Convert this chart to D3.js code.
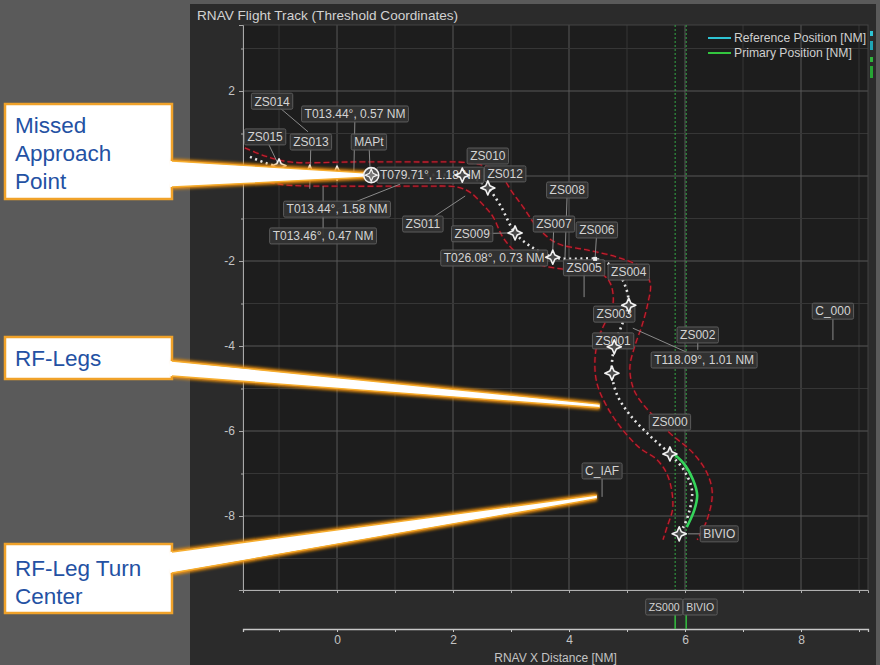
<!DOCTYPE html>
<html><head><meta charset="utf-8">
<script src="https://cdn.jsdelivr.net/npm/d3@7"></script>
<style>
body{margin:0;background:#5a5a5a;}
svg{display:block;font-family:"Liberation Sans",Arial,sans-serif;}
</style>
</head><body>
<svg id="chart" width="880" height="665"></svg>
<script>
// ---------------- DATA (NM, threshold coordinates) ----------------
const titleText = "RNAV Flight Track (Threshold Coordinates)";
const xAxisTitle = "RNAV X Distance [NM]";
const xTickValues = [-1,0,1,2,3,4,5,6,7,8,9];
const xTickLabels = [0,2,4,6,8];
const yTickValues = [-9,-8,-7,-6,-5,-4,-3,-2,-1,0,1,2,3];
const yTickLabels = [2,0,-2,-4,-6,-8];
const legendItems = ["Reference Position [NM]","Primary Position [NM]"];

const referenceTrack = [[-1.50,0.45],[-1.24,0.31],[-1.00,0.21],[-0.72,0.12],[-0.47,0.07],[0.00,0.05],[0.57,0.02],[1.43,0.02],[2.16,0.02],[2.38,-0.07],[2.60,-0.28],[2.81,-0.68],[3.07,-1.34],[3.33,-1.65],[3.72,-1.91],[4.10,-1.95],[4.45,-1.95],[4.74,-2.12],[4.95,-2.52],[5.03,-3.04],[4.91,-3.51],[4.78,-4.02],[4.74,-4.64],[4.83,-5.15],[5.05,-5.62],[5.40,-6.12],[5.74,-6.54],[5.98,-6.92],[6.12,-7.39],[6.07,-7.91],[5.97,-8.26],[5.90,-8.42]];
const primaryTrack = [[5.74,-6.47],[5.97,-6.75],[6.14,-7.15],[6.21,-7.51],[6.16,-7.86],[6.03,-8.26]];
const containmentOuter = [[-1.59,0.66],[-1.24,0.47],[-0.81,0.33],[0.22,0.33],[1.43,0.33],[2.29,0.31],[2.64,0.19],[2.86,-0.05],[3.02,-0.38],[3.21,-0.73],[3.45,-1.20],[3.79,-1.58],[4.31,-1.74],[4.83,-1.91],[5.22,-2.14],[5.40,-2.52],[5.36,-2.99],[5.26,-3.51],[5.14,-3.98],[5.05,-4.49],[5.10,-4.96],[5.22,-5.27],[5.52,-5.74],[5.74,-6.05],[6.14,-6.52],[6.38,-6.99],[6.47,-7.46],[6.38,-8.09],[6.21,-8.56]];
const containmentInner = [[-1.62,0.05],[-1.24,-0.12],[-0.90,-0.21],[0.22,-0.24],[1.43,-0.24],[2.07,-0.26],[2.29,-0.38],[2.52,-0.68],[2.69,-0.96],[2.86,-1.44],[3.10,-1.81],[3.50,-2.09],[4.02,-2.21],[4.53,-2.28],[4.71,-2.52],[4.76,-2.99],[4.66,-3.34],[4.53,-3.74],[4.45,-4.26],[4.48,-4.87],[4.66,-5.44],[4.93,-5.98],[5.22,-6.40],[5.52,-6.68],[5.71,-7.08],[5.79,-7.79],[5.69,-8.26],[5.62,-8.56]];

const waypoints = [
  {name:"ZS015",x:-1.00,y:0.24,kind:"star"},
  {name:"ZS013",x:-0.47,y:0.09,kind:"star"},
  {name:"ZS014",x:0.00,y:0.07,kind:"star"},
  {name:"ZS010",x:2.16,y:0.02,kind:"star"},
  {name:"ZS012",x:2.60,y:-0.28,kind:"star"},
  {name:"ZS009",x:3.07,y:-1.34,kind:"star"},
  {name:"ZS007",x:3.72,y:-1.91,kind:"star"},
  {name:"ZS006",x:4.45,y:-1.95,kind:"dot"},
  {name:"ZS004",x:5.03,y:-3.04,kind:"star"},
  {name:"ZS001",x:4.78,y:-4.02,kind:"star"},
  {name:"ZS003",x:4.74,y:-4.64,kind:"star"},
  {name:"ZS000",x:5.74,y:-6.54,kind:"star"},
  {name:"BIVIO",x:5.90,y:-8.42,kind:"star"}
];
const mapt = {name:"MAPt",x:0.59,y:0.02};

// label text, label centre (x,y) and leader anchor (ax,ay), all in NM
const labels = [
  {t:"ZS014",x:-1.12,y:1.76,ax:-0.50,ay:1.04},
  {t:"T013.44°, 0.57 NM",x:0.31,y:1.46,ax:0.29,ay:0.05},
  {t:"ZS015",x:-1.24,y:0.92,ax:-1.00,ay:0.24},
  {t:"ZS013",x:-0.45,y:0.80,ax:-0.47,ay:-0.30},
  {t:"MAPt",x:0.55,y:0.80,ax:0.57,ay:0.16},
  {t:"ZS010",x:2.60,y:0.47,ax:2.60,ay:0.47},
  {t:"T079.71°, 1.18 NM",x:1.61,y:0.02,ax:1.61,ay:0.02},
  {t:"ZS012",x:2.90,y:0.05,ax:2.90,ay:0.05},
  {t:"T013.44°, 1.58 NM",x:0.00,y:-0.78,ax:1.09,ay:-0.19},
  {t:"T013.46°, 0.47 NM",x:-0.24,y:-1.41,ax:-0.24,ay:-0.24},
  {t:"ZS011",x:1.48,y:-1.13,ax:2.21,ay:-0.47},
  {t:"ZS009",x:2.33,y:-1.36,ax:2.95,ay:-1.34},
  {t:"ZS008",x:3.97,y:-0.33,ax:3.93,ay:-1.93},
  {t:"ZS007",x:3.74,y:-1.13,ax:3.72,ay:-1.74},
  {t:"ZS006",x:4.48,y:-1.27,ax:4.45,ay:-1.93},
  {t:"T026.08°, 0.73 NM",x:2.71,y:-1.93,ax:2.71,ay:-1.93},
  {t:"ZS005",x:4.26,y:-2.16,ax:4.26,ay:-2.85},
  {t:"ZS004",x:5.03,y:-2.26,ax:5.03,ay:-2.26},
  {t:"ZS003",x:4.78,y:-3.25,ax:4.78,ay:-3.25},
  {t:"ZS001",x:4.76,y:-3.88,ax:4.76,ay:-3.88},
  {t:"ZS002",x:6.22,y:-3.74,ax:6.22,ay:-4.09},
  {t:"T118.09°, 1.01 NM",x:6.33,y:-4.33,ax:5.10,ay:-3.58},
  {t:"ZS000",x:5.74,y:-5.79,ax:5.74,ay:-5.79},
  {t:"C_IAF",x:4.57,y:-6.94,ax:4.57,ay:-7.55},
  {t:"BIVIO",x:6.59,y:-8.42,ax:6.05,ay:-8.42},
  {t:"C_000",x:8.55,y:-3.18,ax:8.55,ay:-3.86}
];
const xMarkers = [5.83, 6.02];
const xMarkerLabels = ["ZS000","BIVIO"];
const callouts = [
  {lines:["Missed","Approach","Point"], tx:0.60, ty:0.02},
  {lines:["RF-Legs"], tx:4.53, ty:-5.41},
  {lines:["RF-Leg Turn","Center"], tx:4.48, ty:-7.55}
];

// ---------------- LAYOUT ----------------
const svg = d3.select("#chart");
const P = {l:243, r:868, t:25, b:590};
const x = d3.scaleLinear().domain([-1.621, 9.155]).range([P.l, P.r]);
const y = d3.scaleLinear().domain([-9.741, 3.553]).range([P.b, P.t]);

const defs = svg.append("defs");
defs.append("clipPath").attr("id","plotclip").append("rect")
  .attr("x",P.l).attr("y",P.t).attr("width",P.r-P.l).attr("height",P.b-P.t);
const glow = defs.append("filter").attr("id","glow").attr("x","-20%").attr("y","-50%").attr("width","140%").attr("height","200%");
glow.append("feGaussianBlur").attr("stdDeviation",1.4);

// backgrounds
svg.append("rect").attr("width",880).attr("height",665).attr("fill","#5a5a5a");
svg.append("rect").attr("x",190).attr("y",4).attr("width",686).attr("height",661).attr("fill","#2b2b2b");
svg.append("rect").attr("x",P.l).attr("y",P.t).attr("width",P.r-P.l).attr("height",P.b-P.t).attr("fill","#1d1d1d");

svg.append("text").attr("x",197).attr("y",20).attr("fill","#d2d2d2").attr("font-size",13.6).text(titleText);

// gridlines
const grid = svg.append("g");
xTickValues.forEach(v=>{
  grid.append("line").attr("x1",x(v)).attr("x2",x(v)).attr("y1",P.t).attr("y2",P.b)
    .attr("stroke", v%2===0 ? "#585858" : "#363636").attr("stroke-width",1);
});
yTickValues.forEach(v=>{
  grid.append("line").attr("x1",P.l).attr("x2",P.r).attr("y1",y(v)).attr("y2",y(v))
    .attr("stroke", v%2===0 ? "#585858" : "#363636").attr("stroke-width",1);
});
svg.append("rect").attr("x",P.l).attr("y",P.t).attr("width",P.r-P.l).attr("height",P.b-P.t)
  .attr("fill","none").attr("stroke","#444");

const plot = svg.append("g").attr("clip-path","url(#plotclip)");

// green vertical markers
xMarkers.forEach(v=>{
  plot.append("line").attr("x1",x(v)).attr("x2",x(v)).attr("y1",P.t).attr("y2",P.b)
    .attr("stroke","#33a845").attr("stroke-width",1).attr("stroke-dasharray","2,2");
});

const line = d3.line().x(d=>x(d[0])).y(d=>y(d[1])).curve(d3.curveCatmullRom.alpha(0.5));

// containment
[containmentOuter, containmentInner].forEach(arr=>{
  plot.append("path").attr("d",line(arr)).attr("fill","none")
    .attr("stroke","#5a0d16").attr("stroke-width",3).attr("stroke-dasharray","6,3").attr("opacity",0.6);
  plot.append("path").attr("d",line(arr)).attr("fill","none")
    .attr("stroke","#c0202f").attr("stroke-width",1.3).attr("stroke-dasharray","6,3");
});

// reference track (dotted)
plot.append("path").attr("d",line(referenceTrack)).attr("fill","none")
  .attr("stroke","#e4e4e4").attr("stroke-width",2.6).attr("stroke-dasharray","2,3.6");
// primary track
plot.append("path").attr("d",line(primaryTrack)).attr("fill","none")
  .attr("stroke","#35d35a").attr("stroke-width",2.6);

// leader lines
const leaders = svg.append("g");
labels.forEach(d=>{
  if (d.ax!==d.x || d.ay!==d.y) {
    leaders.append("line").attr("x1",x(d.x)).attr("y1",y(d.y)).attr("x2",x(d.ax)).attr("y2",y(d.ay))
      .attr("stroke","#8a8a8a").attr("stroke-width",1);
  }
});

// label boxes
function drawLabel(g, cx, cy, text, fs) {
  fs = fs || 12;
  const grp = g.append("g");
  const r = grp.append("rect");
  const t = grp.append("text").attr("x",cx).attr("y",cy+fs*0.36).attr("text-anchor","middle")
    .attr("font-size",fs).attr("fill","#d4d4d4").text(text);
  const w = t.node().getComputedTextLength()+6;
  r.attr("x",cx-w/2).attr("y",cy-8).attr("width",w).attr("height",16).attr("rx",1.5)
    .attr("fill","#333").attr("fill-opacity",0.92).attr("stroke","#5c5c5c").attr("stroke-width",1);
}
const labG = svg.append("g");
labels.forEach(d=>drawLabel(labG, x(d.x), y(d.y), d.t));

// 4-point star symbol
const star4 = {draw(ctx,size){const r=Math.sqrt(size)/2; const i=r*0.3;
  ctx.moveTo(0,-r);ctx.lineTo(i,-i);ctx.lineTo(r,0);ctx.lineTo(i,i);ctx.lineTo(0,r);
  ctx.lineTo(-i,i);ctx.lineTo(-r,0);ctx.lineTo(-i,-i);ctx.closePath();}};
const starPath = d3.symbol().type(star4).size(200);
const wpG = svg.append("g");
waypoints.forEach(d=>{
  if (d.kind==="star") {
    wpG.append("path").attr("d",starPath()).attr("transform",`translate(${x(d.x)},${y(d.y)})`)
      .attr("fill","#4a4a4a").attr("stroke","#f2f2f2").attr("stroke-width",1.6).attr("stroke-linejoin","round");
  } else {
    wpG.append("rect").attr("x",x(d.x)-2).attr("y",y(d.y)-2).attr("width",4).attr("height",4).attr("fill","#eee");
  }
});

// legend
const lg = svg.append("g");
const legColors = ["#2ec3d3","#33c63f"];
legendItems.forEach((t,i)=>{
  const ly = 38 + i*15;
  lg.append("line").attr("x1",708).attr("x2",731).attr("y1",ly).attr("y2",ly).attr("stroke",legColors[i]).attr("stroke-width",2);
  lg.append("text").attr("x",734).attr("y",ly+4).attr("font-size",12.2).attr("fill","#cfcfcf").text(t);
});
[[31,5,"#2ec3d3"],[41,9,"#1fa5b5"],[57,5,"#2fb43c"],[66,12,"#27a534"]].forEach(b=>{
  lg.append("rect").attr("x",870).attr("y",b[0]).attr("width",3).attr("height",b[1]).attr("fill",b[2]);
});

// y axis
const yAxis = svg.append("g").attr("transform",`translate(${P.l},0)`)
  .call(d3.axisLeft(y).tickValues(yTickValues).tickSize(4).tickPadding(4)
    .tickFormat(v=>yTickLabels.includes(v)? (v<0?"-"+Math.abs(v):String(v)) : ""));
yAxis.select(".domain").attr("stroke","#a8a8a8");
yAxis.selectAll(".tick line").attr("stroke","#a8a8a8").attr("x2",d=>d%2===0?-4:-2);
yAxis.selectAll(".tick text").attr("fill","#c4c4c4").attr("font-size",12).attr("font-family","Liberation Sans, Arial, sans-serif");

// plot bottom frame with ticks
const xFrame = svg.append("g").attr("transform",`translate(0,${P.b})`)
  .call(d3.axisBottom(x).tickValues(xTickValues).tickSize(3).tickFormat(""));
xFrame.select(".domain").attr("stroke","#b0b0b0");
xFrame.selectAll(".tick line").attr("stroke","#b0b0b0");

// secondary x axis
const xAxisY = 629;
const xAxis = svg.append("g").attr("transform",`translate(0,${xAxisY})`)
  .call(d3.axisBottom(x).tickValues(xTickValues).tickSize(3).tickPadding(3)
    .tickFormat(v=>xTickLabels.includes(v)? String(v):""));
xAxis.select(".domain").attr("stroke","#c8c8c8").attr("stroke-width",1.3);
xAxis.selectAll(".tick line").attr("stroke","#c8c8c8");
xAxis.selectAll(".tick text").attr("fill","#c4c4c4").attr("font-size",12).attr("font-family","Liberation Sans, Arial, sans-serif");
svg.append("text").attr("x",(x(-1.621)+x(9.155))/2).attr("y",662).attr("text-anchor","middle")
  .attr("font-size",12).attr("fill","#c4c4c4").text(xAxisTitle);

// marker labels under plot
const mkG = svg.append("g");
xMarkers.forEach((v,i)=>{
  mkG.append("line").attr("x1",x(v)).attr("x2",x(v)).attr("y1",614).attr("y2",xAxisY)
    .attr("stroke","#33c040").attr("stroke-width",1.5);
});
drawLabel(mkG, x(xMarkers[0])-11, 607, xMarkerLabels[0], 10.5);
drawLabel(mkG, x(xMarkers[1])+14, 607, xMarkerLabels[1], 10.5);

// callouts
const boxes = [
  {x:5,y:104,w:167,h:95,bt:161,bb:187,first:133},
  {x:5,y:337,w:167,h:42,bt:361,bb:376,first:366},
  {x:5,y:544,w:167,h:69,bt:552,bb:573,first:576}
];
const cg = svg.append("g");
callouts.forEach((c,i)=>{
  const b = boxes[i];
  const tx = x(c.tx), ty = y(c.ty);
  cg.append("rect").attr("x",b.x).attr("y",b.y).attr("width",b.w).attr("height",b.h)
    .attr("fill","#ffffff").attr("stroke","#f0a22a").attr("stroke-width",2.5);
  const poly = [[b.x+b.w-2,b.bt],[tx,ty-1.8],[tx,ty+1.8],[b.x+b.w-2,b.bb]];
  const edge1 = `M${b.x+b.w},${b.bt}L${tx},${ty-1.8}`;
  const edge2 = `M${b.x+b.w},${b.bb}L${tx},${ty+1.8}`;
  cg.append("path").attr("d",edge1+edge2).attr("stroke","#f29210").attr("stroke-width",4.5)
    .attr("fill","none").attr("filter","url(#glow)");
  cg.append("path").attr("d","M"+poly.map(p=>p.join(",")).join("L")+"Z").attr("fill","#ffffff");
  cg.append("path").attr("d",edge1+edge2).attr("stroke","#f6ad2e").attr("stroke-width",1.3).attr("fill","none");
  c.lines.forEach((t,j)=>{
    cg.append("text").attr("x",15).attr("y",b.first+j*28).attr("font-size",22.5)
      .attr("fill","#2451a3").text(t);
  });
});

// MAPt marker on top
const mg = svg.append("g").attr("transform",`translate(${x(mapt.x)},${y(mapt.y)})`);
mg.append("circle").attr("r",7.5).attr("fill","#555").attr("stroke","#f2f2f2").attr("stroke-width",1.6);
mg.append("path").attr("d",d3.symbol().type(star4).size(150)()).attr("fill","#777").attr("stroke","#f2f2f2").attr("stroke-width",1.2);
</script>
</body></html>
